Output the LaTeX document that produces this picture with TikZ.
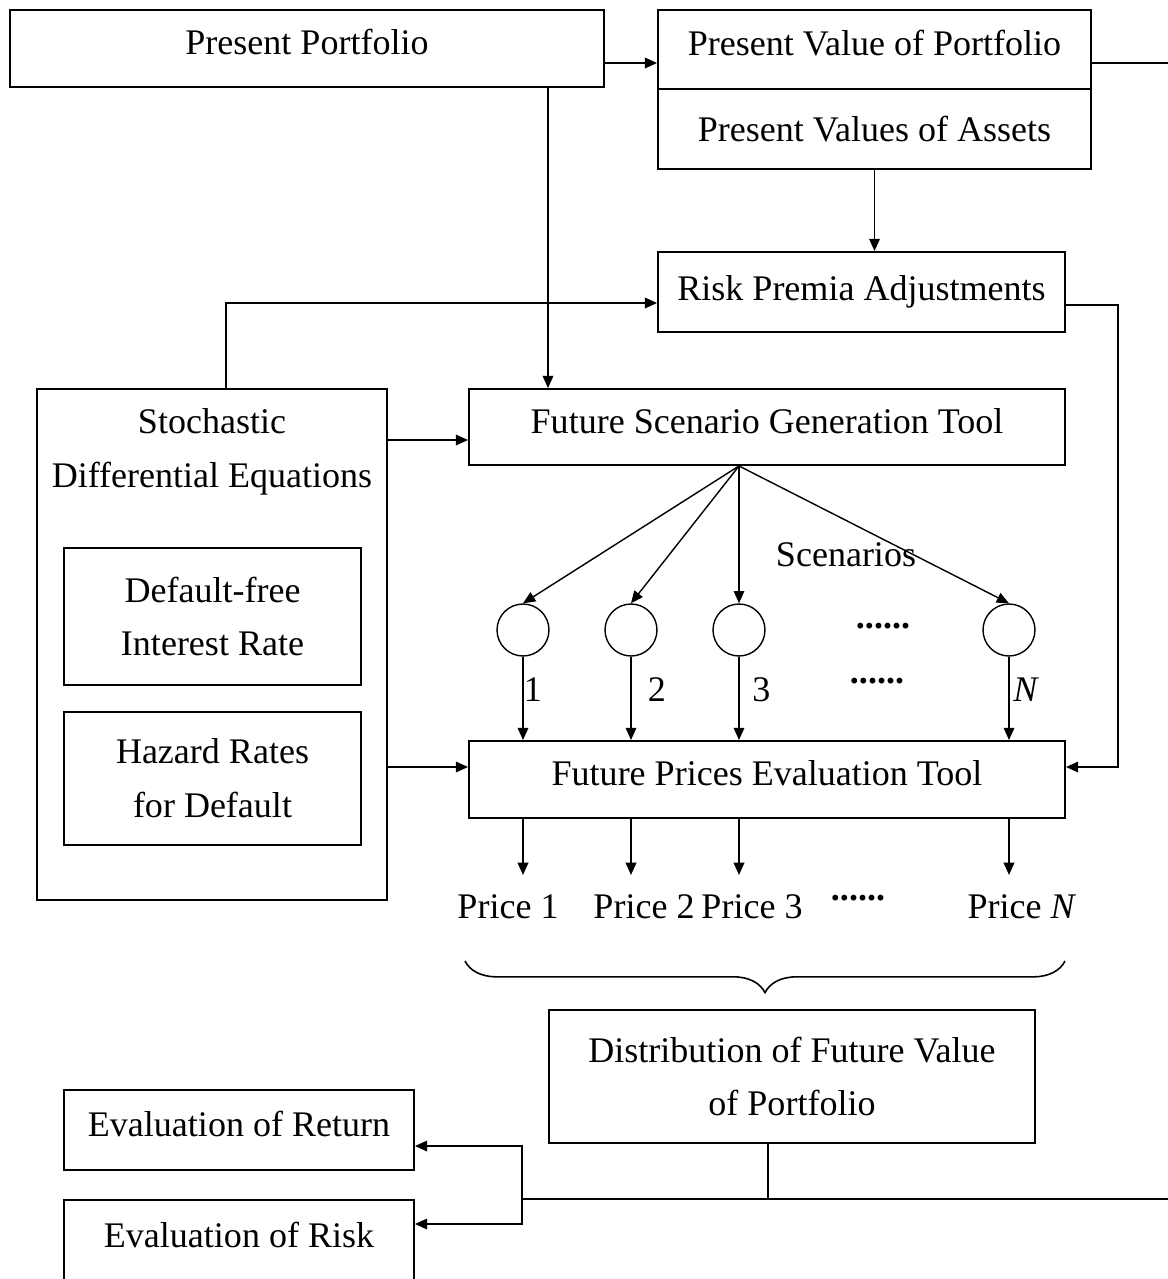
\documentclass[tikz,border=0pt]{standalone}
\usepackage{fontspec}
\setmainfont{Liberation Serif}
\usetikzlibrary{calc, arrows.meta, decorations.pathreplacing}

\tikzset{
  box/.style={draw, line width=1.1pt, inner sep=0pt, align=center},
  lift/.style={text height=14pt, text depth=7pt},
  scenario/.style={draw, circle, line width=0.8pt, minimum size=1.04cm, inner sep=0pt},
  wire/.style={line width=1.1pt},
  arr/.style={line width=1.1pt, -{Triangle[length=7pt,width=6pt]}},
}

\begin{document}
\begin{tikzpicture}[x=0.02cm, y=-0.02cm, font=\fontsize{20.5}{30.6}\selectfont]

    \useasboundingbox (0,0) rectangle (1168,1279);

    % Boxes of the top row
    \node[box, lift, minimum width=11.88cm, minimum height=1.54cm] (pp) at (307,48.5) {Present Portfolio};
    \node[box, lift, minimum width=8.66cm, minimum height=1.58cm] (pvp) at (874.5,49.5) {Present Value of Portfolio};
    \node[box, minimum width=8.66cm, minimum height=1.6cm] (pva) at (874.5,129) {Present Values of Assets};
    \node[box, minimum width=8.14cm, minimum height=1.6cm] (rpa) at (861.5,292) {Risk Premia Adjustments};

    % Stochastic model on the left
    \node[box, minimum width=7cm, minimum height=10.22cm] (sde) at (212,644.5) {};
    \node[align=center] (sdetxt) at (212,452) {Stochastic\\Differential Equations};
    \node[box, minimum width=5.94cm, minimum height=2.74cm] (dfi) at (212.5,616.5) {Default-free\\Interest Rate};
    \node[box, minimum width=5.94cm, minimum height=2.66cm] (hrd) at (212.5,778.5) {Hazard Rates\\for Default};

    % Tools
    \node[box, lift, minimum width=11.92cm, minimum height=1.52cm] (fsg) at (767,427) {Future Scenario Generation Tool};
    \node[box, lift, minimum width=11.92cm, minimum height=1.54cm] (fpe) at (767,779.5) {Future Prices Evaluation Tool};

    % Scenarios
    \node[scenario] (c1) at (523,630) {};
    \node[scenario] (c2) at (631,630) {};
    \node[scenario] (c3) at (739,630) {};
    \node[scenario] (cN) at (1009,630) {};
    \node (scen) at (846,555) {Scenarios};
    \node (dots1) at (883,626) {\textbf{......}};
    \node (dots2) at (877,681) {\textbf{......}};

    % Prices
    \node (pr1) at (508,907) {Price 1};
    \node (pr2) at (644,907) {Price 2};
    \node (pr3) at (752,907) {Price 3};
    \node (prdots) at (858,898) {\textbf{......}};
    \node (prN) at (1022,907) {Price \textit{N}};

    % Results
    \node[box, minimum width=9.72cm, minimum height=2.66cm] (dfv) at (792,1076.5) {Distribution of Future Value\\of Portfolio};
    \node[box, lift, minimum width=7cm, minimum height=1.6cm] (evr) at (239,1130) {Evaluation of Return};
    \node[box, lift, minimum width=7cm, minimum height=1.64cm] (evk) at (239,1241) {Evaluation of Risk};

    % Helper coordinates for the connectors
    \coordinate (lvTop) at (0,63);
    \coordinate (edgeTop) at (1168,63);
    \coordinate (ppdrop) at (548,0);
    \coordinate (sdeup) at (226,0);
    \coordinate (lvRP) at (0,303);
    \coordinate (lvRPout) at (0,305);
    \coordinate (rpturn) at (1118,0);
    \coordinate (lvFS) at (0,440);
    \coordinate (lvFP) at (0,767);
    \coordinate (lvPr) at (0,875);
    \coordinate (drop) at (768,0);
    \coordinate (jn) at (522,1199);
    \coordinate (edgeBot) at (1168,1199);
    \coordinate (lvEvr) at (0,1146);
    \coordinate (lvEvk) at (0,1224);

    % Connectors
    \draw[arr] (pp.east |- lvTop) -- (pvp.west |- lvTop);
    \draw[wire] (pvp.east |- lvTop) -- (edgeTop);
    \draw[arr] (pp.south -| ppdrop) -- (fsg.north -| ppdrop);
    \draw[arr] (pva.south) -- (pva.south |- rpa.north);
    \draw[arr] (sde.north -| sdeup) |- (rpa.west |- lvRP);
    \draw[arr] (rpa.east |- lvRPout) -| (rpturn |- lvFP) -- (fpe.east |- lvFP);
    \draw[arr] (sde.east |- lvFS) -- (fsg.west |- lvFS);
    \draw[arr] (sde.east |- lvFP) -- (fpe.west |- lvFP);

    % Fan out to the scenarios and down to the prices
    \foreach \c in {c1,c2,c3,cN}
        \draw[arr, line width=0.8pt] (fsg.south -| c3) -- (\c.north);
    \foreach \c/\t/\dx in {c1/1/-2, c2/2/7, c3/3/5, cN/\textit{N}/0}
        \draw[arr] (\c.south) -- (\c.south |- fpe.north)
            node[midway, right, inner sep=2pt, xshift=\dx, yshift=5pt] {\t};
    \foreach \c in {c1,c2,c3,cN}
        \draw[arr] (\c |- fpe.south) -- (\c |- lvPr);

    % Brace over the prices
    \draw[line width=0.9pt, decorate, decoration={brace, amplitude=18pt}] (1065,961) -- (465,961);

    % Distribution to the evaluations
    \draw[wire] (dfv.south -| drop) -- (drop |- jn);
    \draw[wire] (jn) -- (edgeBot);
    \draw[arr] (jn) |- (evr.east |- lvEvr);
    \draw[arr] (jn) |- (evk.east |- lvEvk);

\end{tikzpicture}
\end{document}
